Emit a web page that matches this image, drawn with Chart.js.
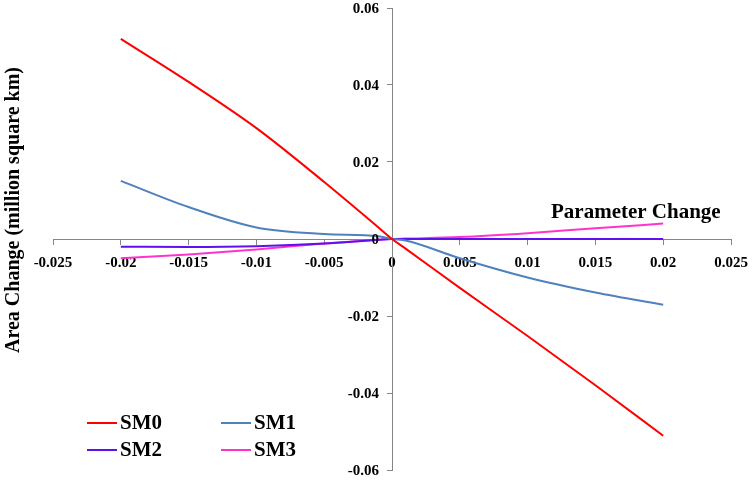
<!DOCTYPE html>
<html>
<head>
<meta charset="utf-8">
<script src="https://cdn.jsdelivr.net/npm/chart.js@4"></script>
<style>
  html, body { margin: 0; padding: 0; background: #ffffff; }
  #wrap { width: 753px; height: 480px; }
</style>
</head>
<body>
<div id="wrap"><canvas id="c" width="753" height="480"></canvas></div>
<script>
// ---- data ----
const paramValues = [-0.02, -0.015, -0.01, -0.005, -0.001, 0, 0.001, 0.005, 0.01, 0.015, 0.02];
const seriesNames = ['SM0', 'SM1', 'SM2', 'SM3'];
const sm0 = [0.052, 0.0408, 0.0288, 0.0148, 0.003, 0, -0.0025, -0.0127, -0.0252, -0.038, -0.0511];
const sm1 = [0.0151, 0.0083, 0.003, 0.0013, 0.0007, 0, -0.0004, -0.0050, -0.0100, -0.0139, -0.0171];
const sm2 = [-0.0020, -0.0021, -0.0019, -0.0012, -0.0002, 0, 0.0000, 0.0000, 0.0000, 0.0000, 0.0000];
const sm3 = [-0.0050, -0.0040, -0.0027, -0.0012, -0.0002, 0, 0.0001, 0.0005, 0.0015, 0.0028, 0.0040];
const seriesColors = ['#FF0000', '#4F81BD', '#6010F0', '#FF33CC'];
const xTickLabels = ['-0.025', '-0.02', '-0.015', '-0.01', '-0.005', '0', '0.005', '0.01', '0.015', '0.02', '0.025'];
const yTickLabels = ['-0.06', '-0.04', '-0.02', '0', '0.02', '0.04', '0.06'];
const xTitle = 'Parameter Change';
const yTitle = 'Area Change (million square km)';

const allSeries = [sm0, sm1, sm2, sm3];
const FONT = "'Liberation Serif', 'Times New Roman', serif";
const AXIS_COLOR = '#868686';

const datasets = allSeries.map((vals, i) => ({
  label: seriesNames[i],
  data: vals.map((v, j) => ({ x: paramValues[j], y: v })),
  borderColor: seriesColors[i],
  backgroundColor: seriesColors[i],
  borderWidth: 2,
  pointRadius: 0,
  showLine: true,
  fill: false,
  cubicInterpolationMode: 'monotone'
}));

function zeroPad(scale) {
  scale.paddingTop = 0; scale.paddingBottom = 0;
  scale.paddingLeft = 0; scale.paddingRight = 0;
}

const annotPlugin = {
  id: 'annot',
  afterDatasetsDraw(chart) {
    const ctx = chart.ctx;
    const xs = chart.scales.x, ys = chart.scales.y;
    ctx.save();
    // y tick labels (to the left of the centred axis)
    ctx.fillStyle = '#000';
    ctx.font = "bold 15px " + FONT;
    ctx.textAlign = 'right';
    ctx.textBaseline = 'middle';
    const axisX = xs.getPixelForValue(0);
    ys.ticks.forEach((t, i) => {
      ctx.fillText(yTickLabels[i], axisX - 13, ys.getPixelForValue(t.value) + 1);
    });
    // x-axis title
    ctx.font = "bold 21px " + FONT;
    ctx.textAlign = 'left';
    ctx.textBaseline = 'middle';
    ctx.fillText(xTitle, 551, 213);
    // y-axis title
    ctx.save();
    ctx.translate(14, 210);
    ctx.rotate(-Math.PI / 2);
    ctx.textAlign = 'center';
    ctx.textBaseline = 'middle';
    ctx.font = "bold 20px " + FONT;
    ctx.fillText(yTitle, 0, 0);
    ctx.restore();
    // legend
    const cols = [87, 221];
    const rows = [423, 450];
    chart.data.datasets.forEach((ds, i) => {
      const x = cols[i % 2];
      const y = rows[Math.floor(i / 2)];
      ctx.strokeStyle = ds.borderColor;
      ctx.lineWidth = 2;
      ctx.beginPath();
      ctx.moveTo(x, y);
      ctx.lineTo(x + 30, y);
      ctx.stroke();
      ctx.fillStyle = '#000';
      ctx.font = "bold 21px " + FONT;
      ctx.textAlign = 'left';
      ctx.textBaseline = 'middle';
      ctx.fillText(ds.label, x + 33, y + 1);
    });
    ctx.restore();
  }
};

new Chart(document.getElementById('c'), {
  type: 'scatter',
  data: { datasets },
  options: {
    responsive: false,
    animation: false,
    layout: { padding: { left: 53, right: 22, top: 8, bottom: 10 } },
    plugins: { legend: { display: false }, tooltip: { enabled: false } },
    scales: {
      x: {
        type: 'linear',
        min: -0.025, max: 0.025,
        position: { y: 0 },
        afterFit: zeroPad,
        grid: { display: true, drawOnChartArea: false, drawTicks: true, tickLength: 5, color: AXIS_COLOR, lineWidth: 1 },
        border: { display: true, color: AXIS_COLOR, width: 1 },
        ticks: {
          stepSize: 0.005,
          padding: 10,
          maxRotation: 0,
          autoSkip: false,
          color: '#000',
          font: { family: FONT, size: 15, weight: 'bold' },
          callback: (v, i) => xTickLabels[i]
        }
      },
      y: {
        type: 'linear',
        min: -0.06, max: 0.06,
        position: { x: 0 },
        afterFit: zeroPad,
        grid: { display: true, drawOnChartArea: false, drawTicks: true, tickLength: 5, color: AXIS_COLOR, lineWidth: 1 },
        border: { display: true, color: AXIS_COLOR, width: 1 },
        ticks: {
          display: false,
          stepSize: 0.02,
          autoSkip: false
        }
      }
    }
  },
  plugins: [annotPlugin]
});
</script>
</body>
</html>
